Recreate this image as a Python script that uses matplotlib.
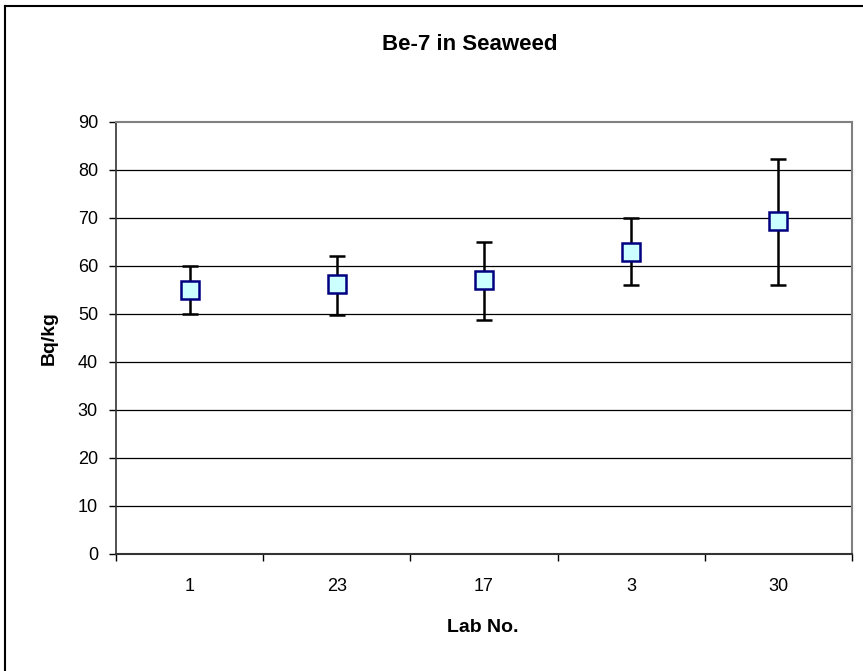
import matplotlib
matplotlib.use("Agg")
import matplotlib.pyplot as plt
from matplotlib.lines import Line2D

labs = ["1", "23", "17", "3", "30"]
values = [55.0, 56.3, 57.1, 63.0, 69.4]
err_low = [50.0, 49.7, 48.8, 56.0, 56.0]
err_high = [60.0, 62.0, 65.0, 70.0, 82.3]
yticks = [0, 10, 20, 30, 40, 50, 60, 70, 80, 90]

plt.rcParams['font.family'] = ['Liberation Sans', 'DejaVu Sans']

W, H = 863, 671
fig = plt.figure(figsize=(W / 100, H / 100), dpi=100)
ax = fig.add_axes([116 / W, 1 - 554 / H, (852 - 116) / W, (554 - 122) / H])

x = list(range(len(labs)))
yerr = [[v - lo for v, lo in zip(values, err_low)],
        [hi - v for v, hi in zip(values, err_high)]]

ax.set_ylim(0, 90)
ax.set_xlim(-0.5, len(labs) - 0.5)
ax.set_yticks(yticks)
ax.set_yticklabels([str(t) for t in yticks], fontsize=13)
for t in yticks[1:-1]:
    ax.axhline(t, color='black', lw=0.9, zorder=1)

ax.errorbar(x, values, yerr=yerr, fmt='none', ecolor='black', elinewidth=1.8,
            capsize=5.8, capthick=1.8, zorder=3)
ax.plot(x, values, linestyle='none', marker='s', markersize=13.5,
        markerfacecolor='#CCFFFF', markeredgecolor='#000080',
        markeredgewidth=1.8, zorder=4)

ax.set_xticks([i + 0.5 for i in range(-1, len(labs))])
ax.set_xticklabels([])
ax.set_xticks(x, minor=True)
ax.set_xticklabels(labs, minor=True, fontsize=13)
ax.tick_params(axis='x', which='minor', length=0, pad=17)
ax.tick_params(axis='x', which='major', length=5, width=1, color='black', direction='out')
ax.tick_params(axis='y', length=5, width=1, direction='out', pad=8)

for s in ['top', 'right']:
    ax.spines[s].set_color('#808080')
    ax.spines[s].set_linewidth(1.5)
ax.spines['left'].set_color('#333333')
ax.spines['bottom'].set_color('#333333')
ax.spines['left'].set_linewidth(1.2)
ax.spines['bottom'].set_linewidth(1.5)

fig.text(49 / W, 1 - 338 / H, 'Bq/kg', fontsize=14, fontweight='bold',
         rotation=90, ha='center', va='center')
fig.text(483 / W, 1 - 628 / H, 'Lab No.', fontsize=14, fontweight='bold',
         ha='center', va='center')
fig.text(470 / W, 1 - 45 / H, 'Be-7 in Seaweed', fontsize=16, fontweight='bold',
         ha='center', va='center')

# outer chart border (left and top visible)
fig.add_artist(Line2D([5 / W, 5 / W], [0, 1 - 6 / H], transform=fig.transFigure,
                      color='black', lw=1.5))
fig.add_artist(Line2D([5 / W, 1], [1 - 6 / H, 1 - 6 / H], transform=fig.transFigure,
                      color='black', lw=1.5))

fig.savefig('out.png', dpi=100)
